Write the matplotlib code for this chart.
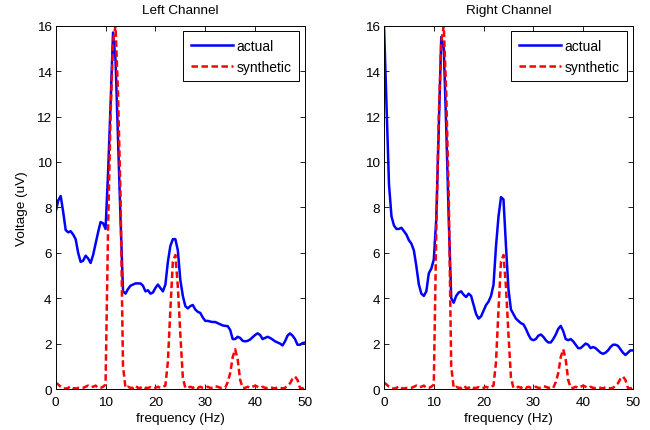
"""
Left/right channel spectra: measured vs synthetic signal
"""

import numpy as np
import matplotlib
matplotlib.use('Agg')
import matplotlib.pyplot as plt

plt.rcParams['font.family'] = ['Liberation Sans', 'DejaVu Sans']

# frequency axis, 0.5 Hz bins
freq = np.arange(0, 50.5, 0.5)

left_actual = [
    7.8, 8.3, 8.5, 7.8, 7.0, 6.9, 6.95, 6.8, 6.6, 6.0,
    5.6, 5.65, 5.87, 5.75, 5.55, 5.9, 6.4, 6.9, 7.35, 7.3,
    7.05, 9.5, 12.5, 15.7, 14.5, 11.0, 7.5, 4.3, 4.2, 4.4,
    4.55, 4.6, 4.65, 4.65, 4.65, 4.55, 4.3, 4.35, 4.2, 4.25,
    4.45, 4.6, 4.45, 4.3, 4.6, 5.6, 6.3, 6.6, 6.6, 6.1,
    4.8, 4.1, 3.65, 3.55, 3.65, 3.7, 3.5, 3.4, 3.35, 3.15,
    3.0, 3.0, 2.97, 2.95, 2.95, 2.9, 2.85, 2.8, 2.78, 2.77,
    2.6, 2.2, 2.2, 2.3, 2.25, 2.12, 2.1, 2.12, 2.18, 2.28,
    2.38, 2.45, 2.38, 2.2, 2.25, 2.3, 2.25, 2.18, 2.1, 2.05,
    2.0, 1.92, 2.1, 2.35, 2.45, 2.35, 2.2, 1.95, 1.95, 2.02,
    2.05,
]

right_actual = [
    16.0, 12.5, 9.0, 7.6, 7.2, 7.05, 7.05, 7.1, 6.95, 6.8,
    6.55, 6.4, 6.1, 5.4, 4.6, 4.2, 4.1, 4.3, 5.1, 5.3,
    5.7, 7.5, 11.5, 15.5, 15.0, 11.5, 7.5, 4.0, 3.8, 4.1,
    4.25, 4.3, 4.15, 4.05, 4.2, 4.1, 3.7, 3.3, 3.1, 3.2,
    3.45, 3.7, 3.85, 4.1, 4.6, 6.3, 7.6, 8.45, 8.35, 6.3,
    4.4, 3.5, 3.3, 3.1, 3.0, 2.9, 2.85, 2.65, 2.4, 2.2,
    2.15, 2.2, 2.35, 2.4, 2.3, 2.15, 2.05, 2.05, 2.2, 2.4,
    2.65, 2.78, 2.55, 2.2, 2.15, 2.2, 2.1, 1.95, 1.8, 1.8,
    1.9, 2.0, 1.95, 1.8, 1.85, 1.8, 1.7, 1.6, 1.55, 1.6,
    1.7, 1.85, 1.95, 1.95, 1.9, 1.75, 1.6, 1.5, 1.6, 1.7,
    1.7,
]

# synthetic spectrum (harmonics at 12, 24, 36, 48 Hz)
synthetic = [
    0.28, 0.2, 0.1, 0.03, 0.02, 0.05, 0.12, 0.05, 0.02, 0.05,
    0.04, 0.05, 0.1, 0.15, 0.08, 0.1, 0.15, 0.05, 0.05, 0.1,
    0.2, 7.0, 12.0, 15.3, 16.0, 13.0, 8.5, 1.0, 0.05, 0.1,
    0.05, 0.05, 0.15, 0.05, 0.05, 0.12, 0.05, 0.05, 0.08, 0.03,
    0.05, 0.1, 0.05, 0.1, 0.15, 1.2, 3.5, 5.6, 5.9, 4.5,
    2.4, 0.5, 0.05, 0.05, 0.1, 0.05, 0.12, 0.05, 0.1, 0.05,
    0.05, 0.1, 0.05, 0.05, 0.12, 0.1, 0.05, 0.08, 0.05, 0.3,
    0.7, 1.4, 1.75, 1.3, 0.4, 0.05, 0.05, 0.1, 0.05, 0.1,
    0.15, 0.1, 0.05, 0.1, 0.05, 0.05, 0.08, 0.05, 0.03, 0.08,
    0.05, 0.03, 0.05, 0.15, 0.25, 0.45, 0.55, 0.4, 0.05, 0.02,
    0.1,
]

FS = 9.7

fig = plt.figure(figsize=(6.5, 4.31), dpi=100)
ax_l = fig.add_axes([0.0857, 0.0951, 0.3835, 0.843])
ax_r = fig.add_axes([0.5908, 0.0951, 0.3829, 0.843])

panels = [(ax_l, left_actual, 'Left Channel'), (ax_r, right_actual, 'Right Channel')]
for ax, actual, title in panels:
    ax.plot(freq, actual, color='#0000FF', lw=1.8, label='actual')
    ax.plot(freq, synthetic, color='#FF0000', lw=1.8, linestyle='--',
            dashes=(2.6, 1.4), label='synthetic')
    ax.set_xlim(0, 50)
    ax.set_ylim(0, 16)
    ax.set_xticks(range(0, 51, 10))
    ax.set_yticks(range(0, 17, 2))
    ax.tick_params(direction='in', top=True, right=True, length=3.5,
                   width=0.6, labelsize=FS, pad=3)
    ax.tick_params(axis='x', pad=5)
    for s in ax.spines.values():
        s.set_linewidth(0.7)
    ax.set_title(title, fontsize=FS, pad=9)
    ax.set_xlabel('frequency (Hz)', fontsize=FS, labelpad=3)
    leg = ax.legend(loc='upper right', fontsize=10, fancybox=False,
                    framealpha=1, edgecolor='black', borderaxespad=0.4,
                    handlelength=3.0, handletextpad=0.3, borderpad=0.55,
                    labelspacing=0.5)
    leg.get_frame().set_linewidth(0.7)

ax_l.set_ylabel('Voltage (uV)', fontsize=FS, labelpad=6)

fig.savefig('out.png', dpi=100)
